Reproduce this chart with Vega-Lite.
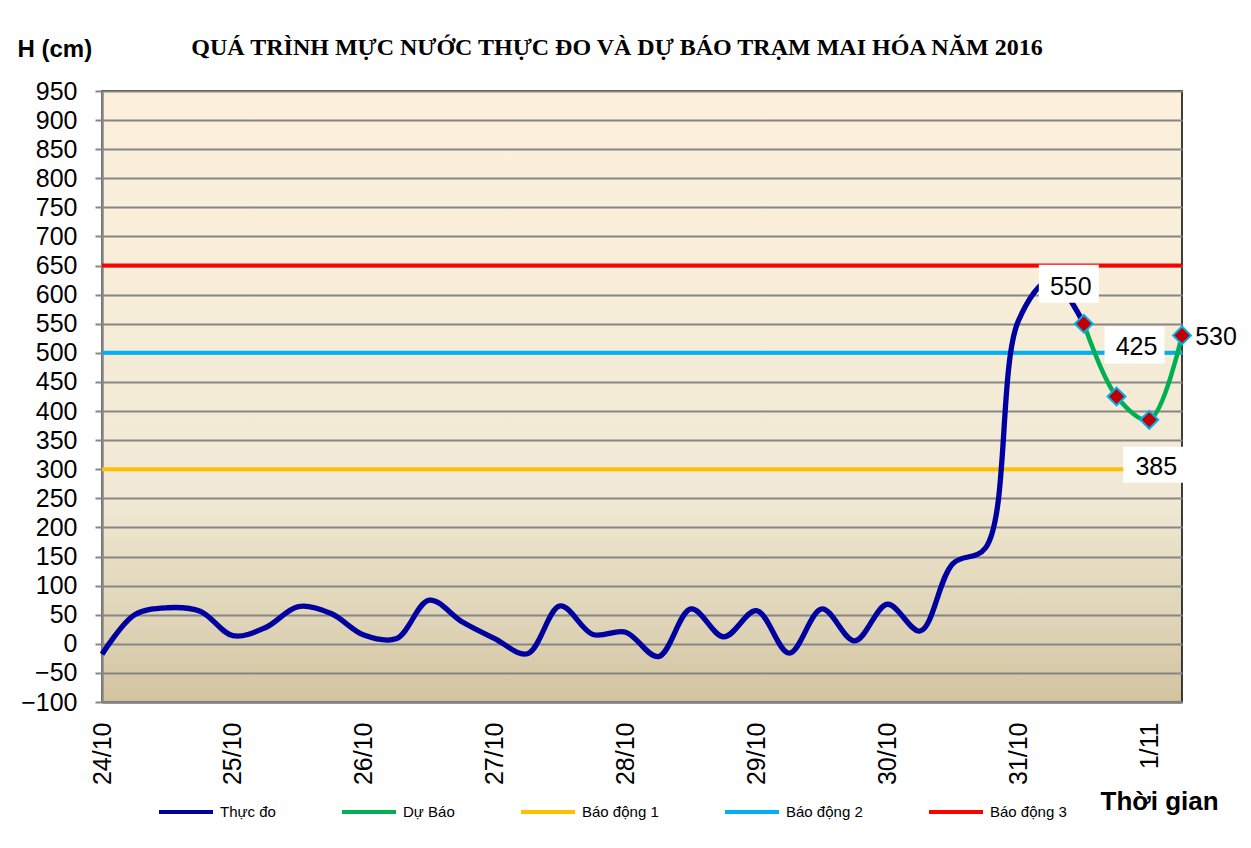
{
  "$schema": "https://vega.github.io/schema/vega-lite/v6.json",
  "autosize": {"type": "none"},
  "width": 1080,
  "height": 611,
  "padding": {"left": 102, "top": 91, "right": 69, "bottom": 146},
  "background": "white",
  "view": {
    "stroke": "black",
    "strokeWidth": 1.5,
    "fill": {
      "gradient": "linear", "x1": 0, "y1": 0, "x2": 0, "y2": 1,
      "stops": [
        {"offset": 0, "color": "#FCF0DC"},
        {"offset": 0.26, "color": "#F8EEDA"},
        {"offset": 0.67, "color": "#F1E9D5"},
        {"offset": 0.77, "color": "#E6DDC2"},
        {"offset": 0.88, "color": "#DED3B6"},
        {"offset": 1, "color": "#D2C39F"}
      ]
    }
  },
  "title": {
    "text": "QUÁ TRÌNH MỰC NƯỚC THỰC ĐO VÀ DỰ BÁO TRẠM MAI HÓA  NĂM 2016",
    "font": "Liberation Serif",
    "fontSize": 24,
    "fontWeight": "bold",
    "color": "black",
    "anchor": "middle",
    "frame": "group",
    "dx": -25,
    "dy": 33,
    "offset": 10
  },
  "datasets": {
    "obs": [
      {"t": "2016-10-24T00:00", "h": -18, "series": "Thực đo"},
      {"t": "2016-10-24T06:00", "h": 50, "series": "Thực đo"},
      {"t": "2016-10-24T12:00", "h": 62, "series": "Thực đo"},
      {"t": "2016-10-24T18:00", "h": 56, "series": "Thực đo"},
      {"t": "2016-10-25T00:00", "h": 14, "series": "Thực đo"},
      {"t": "2016-10-25T06:00", "h": 28, "series": "Thực đo"},
      {"t": "2016-10-25T12:00", "h": 64, "series": "Thực đo"},
      {"t": "2016-10-25T18:00", "h": 52, "series": "Thực đo"},
      {"t": "2016-10-26T00:00", "h": 15, "series": "Thực đo"},
      {"t": "2016-10-26T06:00", "h": 9, "series": "Thực đo"},
      {"t": "2016-10-26T12:00", "h": 75, "series": "Thực đo"},
      {"t": "2016-10-26T18:00", "h": 38, "series": "Thực đo"},
      {"t": "2016-10-27T00:00", "h": 9, "series": "Thực đo"},
      {"t": "2016-10-27T06:00", "h": -17, "series": "Thực đo"},
      {"t": "2016-10-27T12:00", "h": 65, "series": "Thực đo"},
      {"t": "2016-10-27T18:00", "h": 16, "series": "Thực đo"},
      {"t": "2016-10-28T00:00", "h": 20, "series": "Thực đo"},
      {"t": "2016-10-28T06:00", "h": -22, "series": "Thực đo"},
      {"t": "2016-10-28T12:00", "h": 60, "series": "Thực đo"},
      {"t": "2016-10-28T18:00", "h": 12, "series": "Thực đo"},
      {"t": "2016-10-29T00:00", "h": 57, "series": "Thực đo"},
      {"t": "2016-10-29T06:00", "h": -16, "series": "Thực đo"},
      {"t": "2016-10-29T12:00", "h": 60, "series": "Thực đo"},
      {"t": "2016-10-29T18:00", "h": 5, "series": "Thực đo"},
      {"t": "2016-10-30T00:00", "h": 68, "series": "Thực đo"},
      {"t": "2016-10-30T06:00", "h": 22, "series": "Thực đo"},
      {"t": "2016-10-30T12:00", "h": 138, "series": "Thực đo"},
      {"t": "2016-10-30T18:00", "h": 165, "series": "Thực đo"},
      {"t": "2016-10-31T00:00", "h": 555, "series": "Thực đo"},
      {"t": "2016-10-31T06:00", "h": 625, "series": "Thực đo"},
      {"t": "2016-10-31T12:00", "h": 550, "series": "Thực đo"}
    ],
    "fc": [
      {"t": "2016-10-31T12:00", "h": 550, "series": "Dự Báo"},
      {"t": "2016-10-31T18:00", "h": 425, "series": "Dự Báo"},
      {"t": "2016-11-01T00:00", "h": 385, "series": "Dự Báo"},
      {"t": "2016-11-01T06:00", "h": 530, "series": "Dự Báo"}
    ],
    "l550": [{"t": "2016-10-31T12:00", "h": 550}],
    "l425": [{"t": "2016-10-31T18:00", "h": 425}],
    "l385": [{"t": "2016-11-01T00:00", "h": 385}],
    "l530": [{"t": "2016-11-01T06:00", "h": 530}],
    "alarm": [
      {"t": "2016-10-24T00:00", "h": 300, "series": "Báo động 1"},
      {"t": "2016-11-01T06:00", "h": 300, "series": "Báo động 1"},
      {"t": "2016-10-24T00:00", "h": 500, "series": "Báo động 2"},
      {"t": "2016-11-01T06:00", "h": 500, "series": "Báo động 2"},
      {"t": "2016-10-24T00:00", "h": 650, "series": "Báo động 3"},
      {"t": "2016-11-01T06:00", "h": 650, "series": "Báo động 3"}
    ],
    "ticks": [
      {"t": "2016-10-24T06:00"}, {"t": "2016-10-24T12:00"}, {"t": "2016-10-24T18:00"},
      {"t": "2016-10-25T00:00"}, {"t": "2016-10-25T06:00"}, {"t": "2016-10-25T12:00"}, {"t": "2016-10-25T18:00"},
      {"t": "2016-10-26T00:00"}, {"t": "2016-10-26T06:00"}, {"t": "2016-10-26T12:00"}, {"t": "2016-10-26T18:00"},
      {"t": "2016-10-27T00:00"}, {"t": "2016-10-27T06:00"}, {"t": "2016-10-27T12:00"}, {"t": "2016-10-27T18:00"},
      {"t": "2016-10-28T00:00"}, {"t": "2016-10-28T06:00"}, {"t": "2016-10-28T12:00"}, {"t": "2016-10-28T18:00"},
      {"t": "2016-10-29T00:00"}, {"t": "2016-10-29T06:00"}, {"t": "2016-10-29T12:00"}, {"t": "2016-10-29T18:00"},
      {"t": "2016-10-30T00:00"}, {"t": "2016-10-30T06:00"}, {"t": "2016-10-30T12:00"}, {"t": "2016-10-30T18:00"},
      {"t": "2016-10-31T00:00"}, {"t": "2016-10-31T06:00"}, {"t": "2016-10-31T12:00"}, {"t": "2016-10-31T18:00"},
      {"t": "2016-11-01T00:00"}
    ]
  },
  "encoding": {
    "x": {
      "field": "t",
      "type": "temporal",
      "scale": {
        "domain": [
          {"year": 2016, "month": 10, "date": 24, "hours": 0},
          {"year": 2016, "month": 11, "date": 1, "hours": 6}
        ],
        "nice": false
      },
      "axis": {
        "title": "Thời gian",
        "titleFont": "Liberation Sans",
        "titleFontSize": 26,
        "titleFontWeight": "bold",
        "titleColor": "black",
        "titleAlign": "left",
        "titleBaseline": "alphabetic",
        "titleAngle": 0,
        "titleX": 998,
        "titleY": 107,
        "values": [
          {"year": 2016, "month": 10, "date": 24},
          {"year": 2016, "month": 10, "date": 25},
          {"year": 2016, "month": 10, "date": 26},
          {"year": 2016, "month": 10, "date": 27},
          {"year": 2016, "month": 10, "date": 28},
          {"year": 2016, "month": 10, "date": 29},
          {"year": 2016, "month": 10, "date": 30},
          {"year": 2016, "month": 10, "date": 31},
          {"year": 2016, "month": 11, "date": 1}
        ],
        "format": "%-d/%-m",
        "labelAngle": 270,
        "labelAlign": "right",
        "labelBaseline": "middle",
        "labelFont": "Liberation Sans",
        "labelFontSize": 25,
        "labelColor": "black",
        "labelPadding": 20,
        "ticks": false,
        "domainColor": "#868686",
        "domainWidth": 2.5,
        "grid": false
      }
    },
    "y": {
      "field": "h",
      "type": "quantitative",
      "scale": {"domain": [-100, 950], "nice": false, "zero": false},
      "axis": {
        "values": [-100, -50, 0, 50, 100, 150, 200, 250, 300, 350, 400, 450, 500, 550, 600, 650, 700, 750, 800, 850, 900, 950],
        "title": "H (cm)",
        "titleFont": "Liberation Sans",
        "titleFontSize": 24,
        "titleFontWeight": "bold",
        "titleColor": "black",
        "titleAngle": 0,
        "titleAlign": "left",
        "titleBaseline": "alphabetic",
        "titleX": -85,
        "titleY": -35,
        "labelFont": "Liberation Sans",
        "labelFontSize": 25,
        "labelColor": "black",
        "labelPadding": 18,
        "tickSize": 7,
        "tickColor": "#868686",
        "tickWidth": 2,
        "domainColor": "#868686",
        "domainWidth": 2.5,
        "grid": true,
        "gridColor": "#868686",
        "gridWidth": 1.8
      }
    }
  },
  "layer": [
    {
      "data": {"name": "ticks"},
      "mark": {"type": "rule", "color": "#868686", "strokeWidth": 2},
      "encoding": {
        "y": {"datum": -100, "type": "quantitative"},
        "y2": {"datum": -88}
      }
    },
    {
      "data": {"name": "alarm"},
      "mark": {"type": "line", "strokeWidth": 4},
      "encoding": {
        "color": {
          "field": "series",
          "type": "nominal",
          "scale": {
            "domain": ["Thực đo", "Dự Báo", "Báo động 1", "Báo động 2", "Báo động 3"],
            "range": ["#0000A0", "#00B050", "#FFC000", "#00B0F0", "#FF0000"]
          },
          "legend": {
            "title": null,
            "orient": "none",
            "legendX": 55,
            "legendY": 692,
            "direction": "horizontal",
            "symbolType": "stroke",
            "symbolSize": 2916,
            "symbolStrokeWidth": 4,
            "labelFont": "Liberation Sans",
            "labelFontSize": 15,
            "labelColor": "black",
            "labelOffset": 5,
            "columnPadding": 58
          }
        }
      }
    },
    {
      "data": {"name": "obs"},
      "mark": {"type": "line", "strokeWidth": 5.3, "interpolate": "catmull-rom"},
      "encoding": {
        "color": {"field": "series", "type": "nominal"}
      }
    },
    {
      "data": {"name": "fc"},
      "mark": {"type": "line", "strokeWidth": 4.5, "interpolate": "catmull-rom"},
      "encoding": {
        "color": {"field": "series", "type": "nominal"}
      }
    },
    {
      "data": {"name": "fc"},
      "mark": {"type": "point", "shape": "diamond", "size": 320, "filled": true, "fill": "#C00000", "stroke": "#00B0F0", "strokeWidth": 2, "opacity": 1}
    },
    {
      "data": {"name": "l550"},
      "mark": {"type": "point", "shape": "M-45,-59h60v38h-60Z", "size": 4, "filled": true, "fill": "white", "strokeWidth": 0, "opacity": 1}
    },
    {
      "data": {"name": "l425"},
      "mark": {"type": "point", "shape": "M-12,-70h60v37h-60Z", "size": 4, "filled": true, "fill": "white", "strokeWidth": 0, "opacity": 1}
    },
    {
      "data": {"name": "l385"},
      "mark": {"type": "point", "shape": "M-26,27h60v36h-60Z", "size": 4, "filled": true, "fill": "white", "strokeWidth": 0, "opacity": 1}
    },
    {
      "data": {"name": "l550"},
      "mark": {"type": "text", "font": "Liberation Sans", "fontSize": 25, "color": "black", "align": "center", "baseline": "middle", "dx": -13, "dy": -37},
      "encoding": {"text": {"field": "h", "type": "quantitative"}}
    },
    {
      "data": {"name": "l425"},
      "mark": {"type": "text", "font": "Liberation Sans", "fontSize": 25, "color": "black", "align": "center", "baseline": "middle", "dx": 20, "dy": -50},
      "encoding": {"text": {"field": "h", "type": "quantitative"}}
    },
    {
      "data": {"name": "l385"},
      "mark": {"type": "text", "font": "Liberation Sans", "fontSize": 25, "color": "black", "align": "center", "baseline": "middle", "dx": 7, "dy": 47},
      "encoding": {"text": {"field": "h", "type": "quantitative"}}
    },
    {
      "data": {"name": "l530"},
      "mark": {"type": "text", "font": "Liberation Sans", "fontSize": 25, "color": "black", "align": "center", "baseline": "middle", "dx": 34, "dy": 2},
      "encoding": {"text": {"field": "h", "type": "quantitative"}}
    }
  ]
}
